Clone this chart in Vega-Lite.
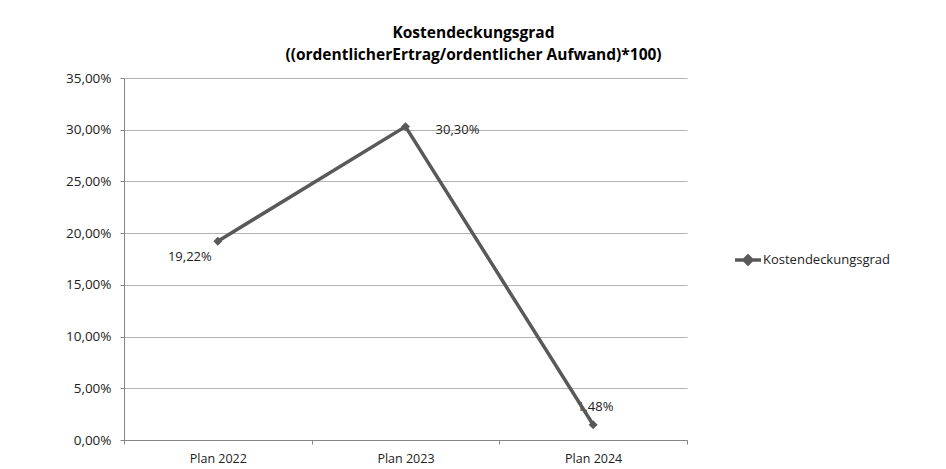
{
  "$schema": "https://vega.github.io/schema/vega-lite/v6.json",
  "width": 563,
  "height": 362,
  "autosize": "none",
  "padding": {"left": 124, "top": 78, "right": 259, "bottom": 29},
  "background": "white",
  "config": {
    "locale": {"number": {"decimal": ",", "thousands": ".", "grouping": [3], "currency": ["", " €"]}},
    "view": {"stroke": null},
    "font": "Open Sans"
  },
  "title": {
    "text": ["Kostendeckungsgrad", "((ordentlicherErtrag/ordentlicher Aufwand)*100)"],
    "fontSize": 15.5,
    "fontWeight": "bold",
    "color": "#000000",
    "anchor": "middle",
    "dx": 68,
    "offset": 8,
    "lineHeight": 22
  },
  "data": {
    "values": [
      {"jahr": "Plan 2022", "wert": 0.1922, "serie": "Kostendeckungsgrad"},
      {"jahr": "Plan 2023", "wert": 0.303, "serie": "Kostendeckungsgrad"},
      {"jahr": "Plan 2024", "wert": 0.0148, "serie": "Kostendeckungsgrad"}
    ]
  },
  "encoding": {
    "x": {
      "field": "jahr",
      "type": "ordinal",
      "bandPosition": 0.5,
      "scale": {"type": "band", "paddingInner": 0, "paddingOuter": 0},
      "axis": {
        "title": null,
        "labelAngle": 0,
        "labelFontSize": 12.5,
        "labelColor": "#222222",
        "labelPadding": 8,
        "domainColor": "#868686",
        "tickColor": "#868686",
        "tickSize": 4,
        "tickBand": "extent",
        "grid": false
      }
    },
    "y": {
      "field": "wert",
      "type": "quantitative",
      "scale": {"domain": [0, 0.35], "nice": false},
      "axis": {
        "title": null,
        "values": [0, 0.05, 0.1, 0.15, 0.2, 0.25, 0.3, 0.35],
        "format": ".2%",
        "labelFontSize": 13.5,
        "labelColor": "#222222",
        "labelPadding": 9,
        "domain": true,
        "domainColor": "#868686",
        "tickColor": "#868686",
        "tickSize": 4,
        "gridColor": "#b3b3b3",
        "gridWidth": 1
      }
    }
  },
  "layer": [
    {
      "transform": [{"filter": "datum.jahr == 'Plan 2022'"}],
      "mark": {"type": "text", "dx": -28, "dy": 16, "fontSize": 13, "color": "#222222"},
      "encoding": {"text": {"field": "wert", "type": "quantitative", "format": ".2%"}}
    },
    {
      "transform": [{"filter": "datum.jahr == 'Plan 2023'"}],
      "mark": {"type": "text", "dx": 52, "dy": 3, "fontSize": 13, "color": "#222222"},
      "encoding": {"text": {"field": "wert", "type": "quantitative", "format": ".2%"}}
    },
    {
      "transform": [{"filter": "datum.jahr == 'Plan 2024'"}],
      "mark": {"type": "text", "dx": 2, "dy": -18, "fontSize": 13, "color": "#222222"},
      "encoding": {"text": {"field": "wert", "type": "quantitative", "format": ".2%"}}
    },
    {
      "mark": {"type": "line", "strokeWidth": 3.5},
      "encoding": {
        "color": {
          "field": "serie",
          "type": "nominal",
          "scale": {"range": ["#595959"]},
          "legend": {
            "title": null,
            "orient": "none",
            "legendX": 609,
            "legendY": 167,
            "padding": 0,
            "symbolType": "M-1,0L1,0M-0.3,0L0,-0.3L0.3,0L0,0.3Z",
            "symbolSize": 676,
            "symbolStrokeWidth": 3.5,
            "symbolFillColor": "#595959",
            "symbolStrokeColor": "#595959",
            "labelFontSize": 13,
            "labelColor": "#222222",
            "labelOffset": 0
          }
        }
      }
    },
    {
      "mark": {"type": "point", "shape": "diamond", "filled": true, "size": 80, "color": "#595959", "opacity": 1}
    }
  ]
}
